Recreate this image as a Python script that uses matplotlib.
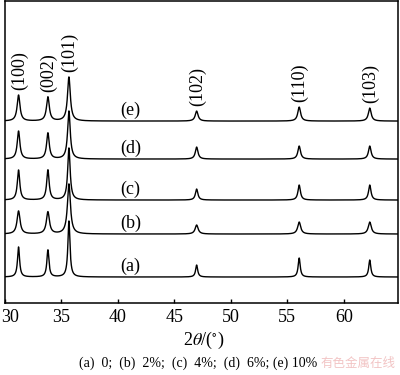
"""XRD patterns of doped films, stacked with vertical offsets."""
import numpy as np
import matplotlib
matplotlib.use("Agg")
import matplotlib.pyplot as plt
from matplotlib.transforms import ScaledTranslation

plt.rcParams['font.family'] = ['Liberation Serif', 'DejaVu Serif']
plt.rcParams['mathtext.fontset'] = 'stix'

# peak positions, 2theta (deg)
peak_pos = [31.2, 33.8, 35.66, 46.97, 56.05, 62.3]
peak_hkl = ['(100)', '(002)', '(101)', '(102)', '(110)', '(103)']

samples = ['(a)', '(b)', '(c)', '(d)', '(e)']
offsets = [26, 69, 103, 144, 182]   # baseline of each pattern (a.u.)
heights = {
    '(a)': [30, 27, 56, 12, 19, 17],
    '(b)': [23, 22, 50, 9, 12, 12],
    '(c)': [30, 30, 52, 11, 15, 15],
    '(d)': [28, 26, 48, 12, 13, 13],
    '(e)': [26, 24, 44, 10, 14, 13],
}
fwhm = {'(a)': 0.22, '(b)': 0.32, '(c)': 0.26, '(d)': 0.28, '(e)': 0.3}

caption = '(a)  0;  (b)  2%;  (c)  4%;  (d)  6%; (e) 10%'

two_theta = np.linspace(30, 65, 3500)

fig = plt.figure(figsize=(4.0, 3.75), dpi=100)
ax = fig.add_axes([0.0125, 0.192, 0.9825, 0.805])

for s, off in zip(samples, offsets):
    w = fwhm[s] / 2
    y = np.full_like(two_theta, off, dtype=float)
    for p, h in zip(peak_pos, heights[s]):
        y += h * w**2 / ((two_theta - p)**2 + w**2)
    ax.plot(two_theta, y, color='black', lw=1.0)
    ax.text(41.1, off + 11, s, ha='center', va='center', fontsize=13)

# hkl labels above the top pattern
top = offsets[-1]
for p, lab, h in zip(peak_pos, peak_hkl, heights['(e)']):
    ax.text(p + 0.05, top + h + 5, lab, rotation=90, ha='center', va='bottom',
            fontsize=13)

ax.set_xlim(30, 64.8)
ax.set_ylim(0, 302)
ax.set_xticks([30, 35, 40, 45, 50, 55, 60])
ax.set_yticks([])
ax.tick_params(axis='x', direction='in', length=3, width=1, labelsize=13, pad=4)
for sp in ax.spines.values():
    sp.set_linewidth(1.1)

# nudge the first tick label so it stays inside the figure
first = ax.get_xticklabels()[0]
first.set_transform(first.get_transform()
                    + ScaledTranslation(5 / 100, 0, fig.dpi_scale_trans))

fig.text(0.51, 0.093, r'2$\it{\theta}$/($^{\circ}$)', ha='center', va='center',
         fontsize=13)
fig.text(0.495, 0.032, caption, ha='center', va='center', fontsize=10)
fig.text(0.895, 0.032, '有色金属在线', ha='center', va='center', fontsize=9,
         color='#f2c4c4', family=['Noto Sans CJK SC', 'DejaVu Sans'])

fig.savefig('out.png', dpi=100)
